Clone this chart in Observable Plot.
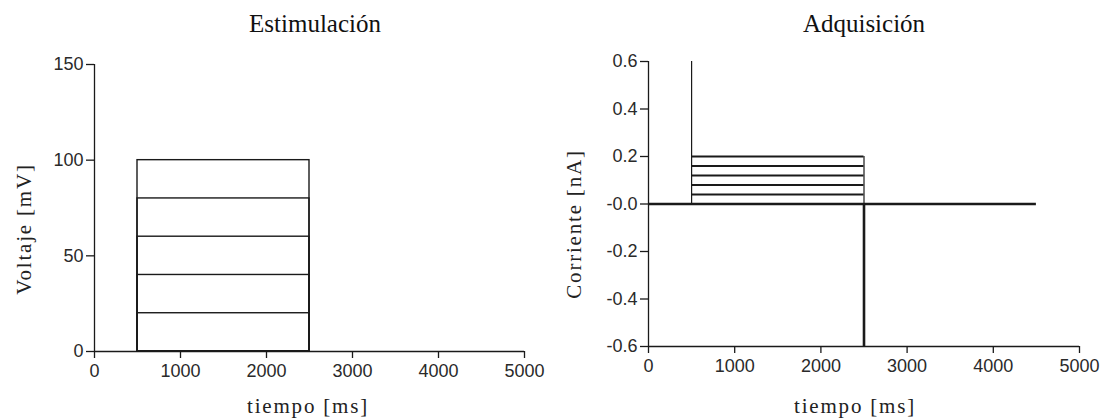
<!DOCTYPE html>
<html>
<head>
<meta charset="utf-8">
<script src="https://cdn.jsdelivr.net/npm/d3@7"></script>
<script src="https://cdn.jsdelivr.net/npm/@observablehq/plot@0.6"></script>
<style>
  html, body { margin: 0; padding: 0; background: #fff; }
  #wrap { position: relative; width: 1101px; height: 419px; overflow: hidden; }
  .panel { position: absolute; top: 0; }
  .title { position: absolute; font-family: "Liberation Serif", "Times New Roman", serif; font-size: 25px; line-height: 25px; color: #111; white-space: nowrap; transform: translateX(-50%); }
  .xlab { position: absolute; font-family: "Liberation Serif", "Times New Roman", serif; font-size: 21px; line-height: 21px; letter-spacing: 1.8px; color: #222; white-space: nowrap; transform: translateX(-50%); }
  .ylab { position: absolute; font-family: "Liberation Serif", "Times New Roman", serif; font-size: 21px; line-height: 21px; letter-spacing: 1.8px; color: #222; white-space: nowrap; transform: translate(-50%, -50%) rotate(-90deg); }
</style>
</head>
<body>
<div id="wrap"></div>
<script>
// ---- data ----
const timeTicks = [0, 1000, 2000, 3000, 4000, 5000];
const voltTicks = [0, 50, 100, 150];
const voltLevels = [20, 40, 60, 80, 100];
const pulseOn = 500;
const pulseOff = 2500;
const currentLevels = [0, 0.04, 0.08, 0.12, 0.16, 0.2];
const currentTicks = [0.6, 0.4, 0.2, 0, -0.2, -0.4, -0.6];
const currentTickLabels = ["0.6", "0.4", "0.2", "-0.0", "-0.2", "-0.4", "-0.6"];
const recordEnd = 4500;
const onsetPeak = 0.6;
const offsetPeak = -0.6;
const titles = ["Estimulación", "Adquisición"];
const xLabel = "tiempo [ms]";
const yLabels = ["Voltaje [mV]", "Corriente [nA]"];

const ink = "#1a1a1a";
const axisStyle = { fontFamily: "'Liberation Sans', Arial, sans-serif", fontSize: "18px", color: "#2a2a2a", background: "transparent" };

const wrap = document.getElementById("wrap");

// ---- left panel: stimulation ----
const left = Plot.plot({
  width: 550, height: 419,
  marginLeft: 94, marginRight: 26, marginTop: 64, marginBottom: 68,
  style: axisStyle,
  x: { domain: [0, 5000] },
  y: { domain: [0, 150] },
  marks: [
    Plot.axisX({ ticks: timeTicks, tickSize: 7, tickPadding: 6, label: null, stroke: ink, strokeWidth: 1.3, tickFormat: d => String(d) }),
    Plot.axisY({ ticks: voltTicks, tickSize: 8, tickPadding: 3, label: null, stroke: ink, strokeWidth: 1.3, tickFormat: d => String(d) }),
    Plot.ruleX([0], { stroke: ink, strokeWidth: 1.3 }),
    Plot.ruleY([0], { stroke: ink, strokeWidth: 1.3 }),
    Plot.rect(voltLevels, { x1: () => pulseOn, x2: () => pulseOff, y1: () => 0, y2: d => d, fill: "none", stroke: ink, strokeWidth: 1.4 })
  ]
});
left.classList.add("panel");
left.style.left = "0px";
wrap.appendChild(left);

// ---- right panel: acquisition ----
const right = Plot.plot({
  width: 551, height: 419,
  marginLeft: 98, marginRight: 22, marginTop: 61, marginBottom: 73,
  style: axisStyle,
  x: { domain: [0, 5000] },
  y: { domain: [-0.6, 0.6] },
  marks: [
    Plot.axisX({ ticks: timeTicks, tickSize: 7, tickPadding: 6, label: null, stroke: ink, strokeWidth: 1.3, tickFormat: d => String(d) }),
    Plot.axisY({ ticks: currentTicks, tickSize: 8, tickPadding: 3, label: null, stroke: ink, strokeWidth: 1.3, tickFormat: (d, i) => currentTickLabels[currentTicks.indexOf(d)] }),
    Plot.ruleX([0], { stroke: ink, strokeWidth: 1.3 }),
    Plot.ruleY([-0.6], { stroke: ink, strokeWidth: 1.3 }),
    // step edges and transients
    Plot.ruleX([pulseOn], { y1: () => 0, y2: () => onsetPeak, stroke: ink, strokeWidth: 1.2 }),
    Plot.ruleX([pulseOff], { y1: () => 0, y2: () => d3.max(currentLevels), stroke: ink, strokeWidth: 1.2 }),
    Plot.ruleX([pulseOff], { y1: () => offsetPeak, y2: () => 0, stroke: ink, strokeWidth: 2.6 }),
    // baseline before/after pulse
    Plot.ruleY([0], { x1: () => 0, x2: () => recordEnd, stroke: ink, strokeWidth: 2.6 }),
    // current levels during pulse
    Plot.ruleY(currentLevels, { x1: () => pulseOn, x2: () => pulseOff, stroke: ink, strokeWidth: 2.2 })
  ]
});
right.classList.add("panel");
right.style.left = "550px";
wrap.appendChild(right);

// ---- titles and axis labels ----
function addDiv(cls, text, x, y) {
  const d = document.createElement("div");
  d.className = cls;
  d.textContent = text;
  d.style.left = x + "px";
  d.style.top = y + "px";
  wrap.appendChild(d);
}
addDiv("title", titles[0], 315, 11);
addDiv("title", titles[1], 864, 11);
addDiv("xlab", xLabel, 308, 396);
addDiv("xlab", xLabel, 855, 396);
addDiv("ylab", yLabels[0], 24, 229);
addDiv("ylab", yLabels[1], 574, 224);
</script>
</body>
</html>
